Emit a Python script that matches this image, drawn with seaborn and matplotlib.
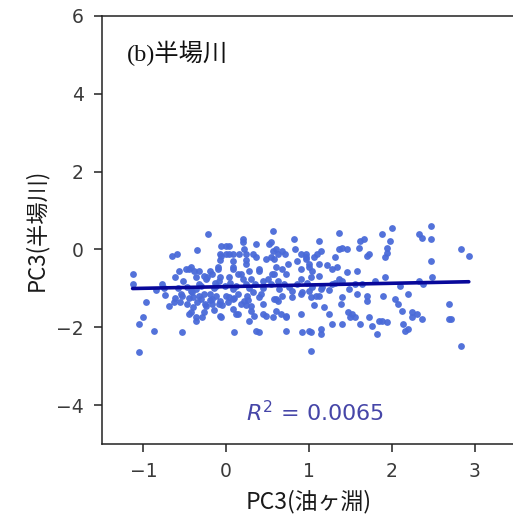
import numpy as np
import pandas as pd
import matplotlib
matplotlib.use("Agg")
import matplotlib.pyplot as plt
import seaborn as sns

# PC3 scores (x: 油ヶ淵, y: 半場川)
pc3_aburagafuchi = [
    # x < -0.5
    -1.13, -1.12, -0.97, -1.01, -1.05, -0.87, -1.05, -0.77, -0.75, -0.74, -0.69,
    -0.63, -0.56, -0.65, -0.60, -0.53, -0.57, -0.85, -0.62, -0.52, -0.58, -0.53,
    -0.55, -0.62,
    # -0.5 .. 0.5
    -0.49, -0.45, -0.39, -0.33, -0.43, -0.35, -0.22, -0.37, -0.33, -0.41, -0.47,
    -0.43, -0.37, -0.29, -0.45, -0.37, -0.27, -0.25, -0.27, -0.17, -0.23, -0.17,
    -0.10, -0.09, -0.12, -0.09, -0.06, -0.47, -0.43, -0.37, -0.40, -0.33, -0.20,
    -0.24, -0.17, -0.08, -0.08, -0.20, -0.27, -0.24, -0.08, -0.10, -0.06, -0.08,
    -0.08, -0.06, 0.00, 0.04, 0.04, 0.08, 0.00, 0.08, 0.08, 0.04, 0.08, 0.04,
    0.08, 0.14, 0.10, 0.12, 0.00, 0.08, 0.14, 0.22, 0.08, 0.14, 0.20, 0.16,
    0.20, 0.20, 0.21, 0.24, 0.24, 0.18, 0.24, 0.25, 0.24, 0.30, 0.28, 0.36,
    0.36, 0.36, 0.32, 0.28, 0.30, 0.40, 0.44, 0.42, 0.45, 0.48, 0.40, 0.40,
    0.32, 0.34, 0.44, 0.40, 0.48, 0.24, -0.02, -0.15, 0.12, 0.28, 0.45, -0.30,
    0.35, 0.05, -0.13, -0.45, -0.35, -0.30, -0.20, -0.12, -0.05, 0.02, 0.10,
    0.18, 0.26, -0.40, 0.30, -0.15,
    # 0.5 .. 1.2
    0.56, 0.52, 0.54, 0.60, 0.56, 0.58, 0.54, 0.62, 0.68, 0.60, 0.55, 0.62,
    0.64, 0.62, 0.60, 0.72, 0.72, 0.71, 0.75, 0.72, 0.76, 0.80, 0.82, 0.83,
    0.86, 0.90, 0.90, 0.92, 0.90, 0.92, 0.96, 0.97, 0.90, 0.96, 1.00, 1.00,
    1.02, 1.04, 1.02, 1.06, 1.02, 1.00, 1.14, 1.14, 1.02, 1.12, 1.10, 1.12,
    1.12, 1.14, 1.12, 1.18, 1.04, 1.14, 1.06, 1.16, 1.08, 1.00, 0.90, 0.80,
    0.58, 0.68, 0.50, 0.58, 0.68, 0.60, 0.56, 0.66, 0.72, 0.54, 0.70, 0.85,
    0.98,
    # x >= 1.2
    1.24, 1.28, 1.34, 1.32, 1.36, 1.36, 1.40, 1.39, 1.46, 1.46, 1.40, 1.47,
    1.49, 1.48, 1.58, 1.62, 1.60, 1.56, 1.58, 1.62, 1.70, 1.72, 1.70, 1.70,
    1.72, 1.76, 1.82, 1.84, 1.80, 1.88, 1.92, 1.94, 1.94, 1.90, 1.88, 1.92,
    1.98, 2.00, 2.04, 2.08, 2.14, 2.16, 2.12, 2.20, 2.24, 2.25, 2.33, 2.37,
    2.38, 2.47, 2.47, 2.47, 2.48, 2.69, 2.69, 2.72, 2.83, 2.93, 2.83, 1.28,
    1.32, 1.28, 1.40, 1.36, 1.40, 2.33, 1.66, 1.22, 1.24, 1.52, 1.56, 1.94,
    2.19, 2.30, 2.36, 1.64, 2.10,
]
pc3_hanbagawa = [
    # x < -0.5
    -0.63, -0.88, -1.36, -1.73, -1.92, -2.09, -2.64, -0.89, -0.99, -1.17, -1.45,
    -1.36, -1.36, -0.16, -0.12, -2.11, -0.55, -1.05, -0.72, -0.80, -1.00, -1.20,
    -1.15, -1.25,
    # -0.5 .. 0.5
    -0.50, -0.50, -0.55, -0.55, -0.45, -0.02, 0.39, -0.72, -0.89, -1.10, -1.40,
    -1.62, -1.83, -1.74, -1.66, -1.74, -1.62, -1.40, -1.15, -1.27, -0.72, -0.63,
    -0.46, -0.80, -0.93, -1.40, -1.74, -0.97, -1.06, -1.02, -1.23, -1.19, -1.15,
    -1.45, -1.40, -1.32, -1.70, -0.55, -0.68, -0.76, -0.72, -0.50, 0.09, -0.12,
    -0.28, -0.16, 0.09, 0.09, -0.12, -0.29, -0.12, -0.12, -0.50, -0.72, -1.02, -1.23,
    -1.52, -1.66, -2.13, -1.66, -1.19, -1.27, -1.15, -1.32, -0.46, -0.63, -0.76, -0.12,
    0.26, 0.18, 0.00, -0.38, -0.28, -0.63, -0.89, -1.19, -1.44, -1.57, -1.83, -2.09,
    0.14, -0.20, -0.12, -0.55, -0.76, -0.55, -0.80, -1.15, -1.40, -1.70, -0.50, -1.23,
    -1.10, -1.70, -1.66, -2.13, -0.25, -0.12, -0.95, -1.00, -0.95, -0.98, -1.00, -0.95,
    -0.88, -0.85, -0.85, -1.25, -1.35, -1.28, -1.30, -1.20, -1.42, -1.35, -1.25,
    -1.40, -1.30, -1.48, -1.45, -1.55,
    # 0.5 .. 1.2
    0.48, 0.14, 0.18, 0.00, -0.03, -0.24, -0.20, -0.12, -0.03, -0.46, -0.63, -0.80,
    -1.02, -1.32, -1.57, -1.74, -2.09, -0.12, -0.38, -0.63, -0.97, -1.23, 0.26, 0.00,
    -0.30, -0.50, -0.76, -1.10, -1.66, -2.13, -0.20, -0.12, -0.12, -0.25, -0.46, -0.38,
    -0.72, -0.97, -1.23, -1.44, -2.13, -2.09, -2.17, -2.05, -2.60, 0.22, -0.12, -0.38,
    -0.67, -1.02, -1.19, -1.48, -0.55, -0.03, -0.20, -0.97, -1.19, -1.06, -1.15, -1.06,
    -0.63, -0.50, -0.76, -1.27, -1.19, -1.27, -1.74, -1.66, -1.70, -0.90, -0.90, -0.88,
    -0.85,
    # x >= 1.2
    -1.66, -1.92, -0.46, -0.20, 0.00, 0.42, -1.92, -1.40, -0.59, 0.00, 0.05, -1.62,
    -1.74, -1.02, -0.55, 0.22, 0.05, -0.89, -1.15, -1.92, -0.16, -0.12, -1.19, -1.33,
    -1.74, -1.96, -2.17, -1.83, -0.80, 0.39, -0.20, 0.05, -0.08, -1.19, -1.83, -0.72,
    0.22, 0.56, -1.27, -1.40, -1.92, -2.09, -1.57, -1.15, -1.62, -1.74, 0.39, 0.30,
    -0.89, 0.61, 0.26, -0.30, -0.72, -1.40, -1.79, -1.79, 0.00, -0.16, -2.47, -0.89,
    -0.87, -0.50, -1.23, -0.76, -0.80, -0.80, 0.26, -0.41, -1.05, -1.66, -1.74, -1.87,
    -2.04, -1.66, -1.79, -0.90, -0.95,
]
r2_label = r"$R^2$ = 0.0065"
panel_label = "(b)半場川"
x_label = "PC3(油ヶ淵)"
y_label = "PC3(半場川)"

df = pd.DataFrame({"x": pc3_aburagafuchi, "y": pc3_hanbagawa})

sns.set_theme(style="ticks")
plt.rcParams["font.family"] = ["DejaVu Sans", "Noto Sans CJK JP"]
cjk = ["Noto Sans CJK JP", "DejaVu Sans"]

fig = plt.figure(figsize=(5.13, 5.26), dpi=100)
# axes runs past the right edge, as in the cropped original
ax = fig.add_axes([0.1988, 0.1559, 0.807, 0.8137])

sns.regplot(data=df, x="x", y="y", ax=ax, ci=None,
            scatter_kws=dict(s=24, color="#4a6ad8", alpha=0.95, linewidths=0),
            line_kws=dict(color="#08089a", lw=2.6))

ax.set_xlim(-1.5, 3.5)
ax.set_ylim(-5, 6)
ax.set_xticks([-1, 0, 1, 2, 3])
ax.set_yticks([-4, -2, 0, 2, 4, 6])
for s in ax.spines.values():
    s.set_linewidth(1.1)
    s.set_color("#222222")
ax.tick_params(labelsize=13.5, length=6, width=1.1, pad=7,
               colors="#222222", labelcolor="#3a3a3a")

ax.set_xlabel(x_label, fontsize=16.5, family=cjk, color="#1a1a1a", labelpad=6)
ax.set_ylabel(y_label, fontsize=16, family=cjk, color="#1a1a1a", labelpad=6)

ax.text(-1.2, 5.05, panel_label, fontsize=17.5, va="center", ha="left",
        family=["Liberation Serif", "Noto Sans CJK JP"], color="#111111")
ax.text(1.07, -4.2, r2_label, fontsize=16, va="center", ha="center",
        color="#4646a8")

fig.savefig("out.png", dpi=100)
